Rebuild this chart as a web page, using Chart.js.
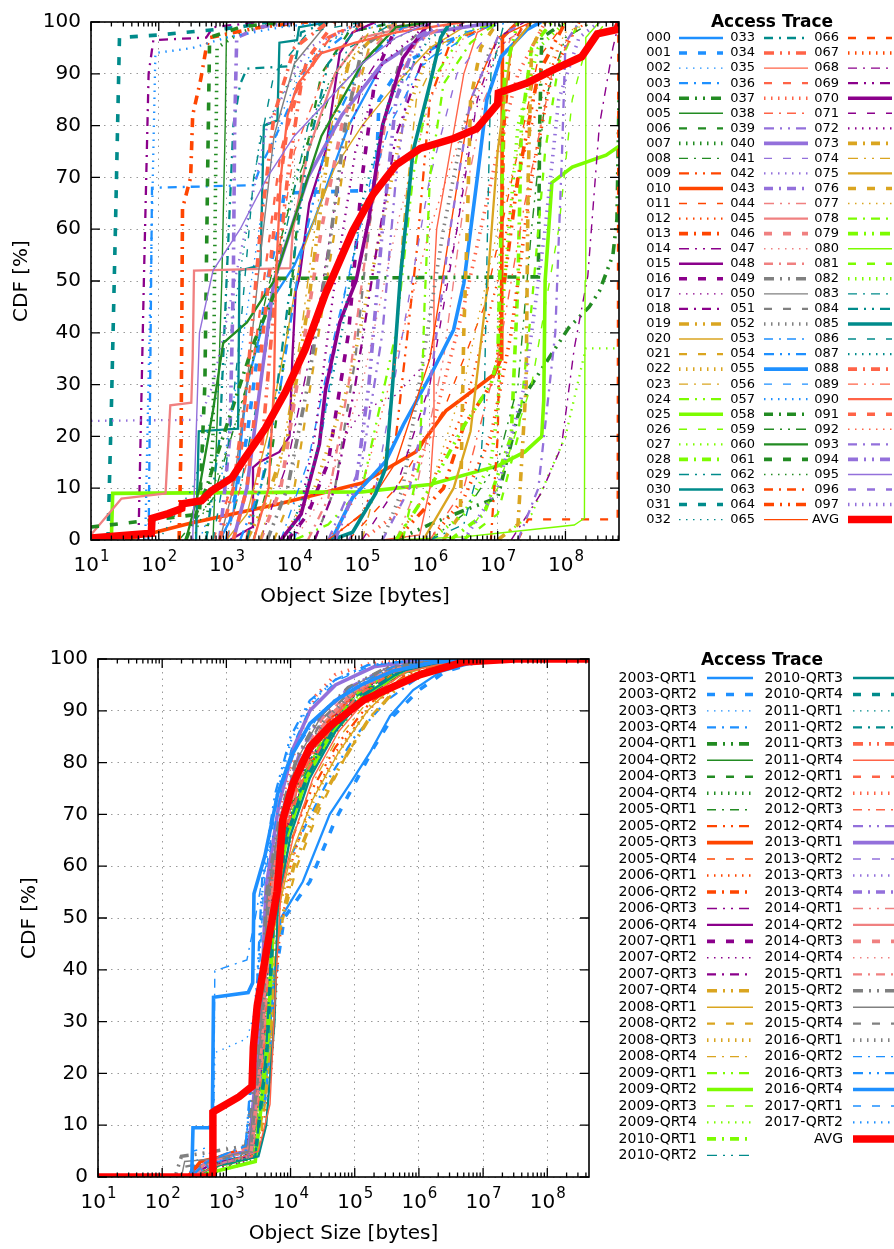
<!DOCTYPE html>
<html>
<head>
<meta charset="utf-8">
<title>Object size CDF per access trace</title>
<script src="https://cdn.jsdelivr.net/npm/chart.js@4.4.0/dist/chart.umd.min.js"></script>
<style>
  body { margin: 0; background: #fff; }
  canvas { display: block; }
</style>
</head>
<body>
<canvas id="cdfTraces" width="894" height="637"></canvas>
<canvas id="cdfQuarters" width="894" height="612"></canvas>
<script>
// x axis decades (10^n bytes), y axis CDF ticks
const decades = [1, 2, 3, 4, 5, 6, 7, 8]
const cdfTicks = [0, 10, 20, 30, 40, 50, 60, 70, 80, 90, 100]

// every curve is a list of [log10(object size in bytes), CDF in %]
const traceAvg = [[1.0,0.4],[1.89,1.3],[1.9,4.2],[2.14,5.1],[2.34,6.1],[2.35,7],[2.63,7.6],[2.78,9.5],[3.08,12],[3.27,15.8],[3.57,21.5],[3.87,28.6],[4.16,36.8],[4.46,47.6],[4.86,59.6],[5.16,66.7],[5.5,72.4],[5.86,75.6],[6.35,77.5],[6.69,79.4],[7.0,84.2],[7.01,86.3],[7.43,88.2],[7.84,90.9],[8.24,93.3],[8.47,97.7],[8.75,98.5],[8.79,99.6]]

const traceCurves = [
  [[2.9,0],[3.1,5],[3.3,30],[3.6,45],[4.0,53],[4.3,62],[4.8,80],[5.3,92],[6,98],[7,100]],
  [[3.0,0],[3.3,20],[3.6,50],[3.8,62],[3.85,67],[5.2,67.5],[5.25,85],[5.6,92],[6.2,96],[7,100]],
  [[2.6,0],[2.9,10],[3.2,35],[3.5,62],[3.8,82],[4.2,93],[4.8,99],[5.5,100]],
  [[1.85,0],[1.88,40],[1.9,68],[3.4,68.5],[3.5,72],[3.8,80],[4.2,92],[4.8,98],[5.5,100]],
  [[5.5,0],[6.0,3],[6.5,5.7],[7.0,8.2],[7.3,24],[7.45,29],[7.85,37],[8.05,41],[8.35,45],[8.5,48],[8.7,55],[8.76,62],[8.79,85]],
  [[2.8,0],[2.88,30],[2.93,50],[2.98,80],[3.0,100]],
  [[3.4,0],[3.6,10],[3.9,40],[4.1,70],[4.4,90],[4.8,98],[5.5,100]],
  [[2.7,0],[2.8,20],[2.83,60],[2.86,95],[3.2,98],[3.8,100]],
  [[2.3,0],[2.8,8],[3.3,30],[3.6,48],[4.0,68],[4.5,85],[5.2,95],[6,100]],
  [[4.5,0],[5.0,5],[5.5,20],[5.8,55],[6.0,85],[6.3,96],[7,100]],
  [[1.5,0],[2.45,3.2],[3.78,7],[5.0,11],[5.79,17],[6.24,25],[6.5,27.5],[6.95,32],[7.05,35],[7.06,50],[7.07,97],[7.3,100]],
  [[4.8,0],[5.5,10],[6.2,25],[6.8,45],[7.3,75],[7.6,93],[8,100]],
  [[5.5,0],[6.0,10],[6.5,25],[7.0,50],[7.2,65],[7.5,80],[7.9,95],[8.3,100]],
  [[2.3,0],[2.33,20],[2.35,64],[2.47,70],[2.5,82],[2.62,89],[2.7,95],[2.75,97],[3.5,99],[4.2,100]],
  [[3.5,0],[3.9,15],[4.3,40],[4.6,65],[5.0,88],[5.5,98],[6,100]],
  [[3.05,0],[3.38,2.5],[3.39,14],[3.48,15],[3.78,17],[3.93,20],[3.97,35],[4.02,48],[4.08,51],[4.22,65],[4.46,75],[4.67,94],[4.86,98],[5.2,100]],
  [[3.9,0],[4.2,5],[4.5,15],[4.8,40],[5.0,70],[5.2,90],[5.5,99],[6,100]],
  [[4.0,0],[4.5,15],[5.0,25],[5.5,28],[6.0,35],[6.4,60],[6.6,80],[7.0,95],[7.5,100]],
  [[1.7,0],[1.78,50],[1.85,90],[1.92,96.5],[2.7,97],[2.8,99],[3.5,100]],
  [[3.3,0],[3.6,8],[3.9,20],[4.2,45],[4.5,75],[4.8,92],[5.3,99],[6,100]],
  [[3.0,0],[3.3,5],[3.6,20],[3.9,40],[4.1,55],[4.3,62],[4.6,72],[5.0,80],[5.5,88],[6.0,95],[6.5,99],[7,100]],
  [[3.7,0],[4.0,10],[4.3,35],[4.6,60],[4.8,80],[5.1,95],[5.5,100]],
  [[3.8,0],[4.3,10],[4.8,30],[5.2,55],[5.6,80],[6.0,95],[6.5,100]],
  [[5.0,0],[5.4,20],[5.6,60],[5.8,85],[6.2,96],[7,100]],
  [[4.0,0],[4.5,3],[5.0,10],[5.5,40],[5.75,70],[6.0,88],[6.5,98],[7,100]],
  [[1.3,0],[1.32,9],[5.0,9.3],[6.0,10.7],[7.0,14.3],[7.4,17],[7.65,20],[7.68,27],[7.7,50],[7.8,69],[8.1,72],[8.6,74.3],[8.79,76]],
  [[6.5,0],[7.0,10],[7.5,30],[7.9,60],[8.1,85],[8.3,95],[8.6,100]],
  [[7.0,0],[7.5,5],[8.0,20],[8.3,37],[8.79,37]],
  [[6.3,0],[6.8,5],[7.2,20],[7.3,50],[7.35,80],[7.5,95],[7.8,100]],
  [[3.0,0],[3.2,10],[3.5,30],[3.8,55],[4.2,80],[4.8,95],[5.5,100]],
  [[2.55,0],[2.59,21],[3.17,21.5],[3.19,52],[3.5,53],[3.55,80],[3.75,81],[3.78,96],[4.04,96.5],[4.07,99],[4.5,100]],
  [[1.25,0],[1.3,25],[1.36,60],[1.42,97],[2.0,97.5],[3.2,99],[3.6,100]],
  [[2.0,0],[2.5,10],[3.0,35],[3.3,60],[3.5,78],[3.9,88],[4.5,96],[5,100]],
  [[2.7,0],[2.9,20],[3.0,50],[3.1,80],[3.2,88],[3.3,91],[4.0,91.5],[4.1,98],[4.5,100]],
  [[3.3,0],[3.5,15],[3.7,45],[3.9,70],[4.1,88],[4.5,97],[5,100]],
  [[5.3,0],[5.85,1],[6.0,10],[6.05,20],[6.06,50],[6.1,60],[6.3,75],[6.5,90],[6.7,98],[7,100]],
  [[2.8,0],[3.2,15],[3.5,45],[3.8,75],[4.1,90],[4.6,98],[5.2,100]],
  [[5.0,0],[5.5,5],[6.0,20],[6.5,45],[7.0,75],[7.3,90],[7.7,100]],
  [[3.0,0],[3.4,20],[3.7,50],[4.0,75],[4.5,92],[5,100]],
  [[4.5,0],[5.0,15],[5.3,40],[5.5,70],[5.7,90],[6,100]],
  [[3.1,0],[3.3,10],[3.5,30],[3.7,50],[4.2,70],[4.7,82],[5.3,92],[6,98],[7,100]],
  [[4.8,0],[5.2,10],[5.6,40],[6.0,70],[6.4,90],[7,100]],
  [[1.0,23],[2.6,23.2],[2.8,30],[3.2,55],[3.6,80],[4.2,95],[5,100]],
  [[2.9,0],[3.05,20],[3.1,50],[3.12,80],[3.15,97],[3.5,99],[4,100]],
  [[5.5,0],[5.8,10],[6.2,35],[6.5,65],[6.8,85],[7.2,97],[7.6,100]],
  [[1.0,1],[1.45,8],[2.1,9],[2.17,26],[2.48,26.5],[2.5,35],[2.52,52],[3.94,52.5],[3.98,60],[4.2,75],[4.6,90],[5.0,97],[6,100]],
  [[3.5,0],[3.8,10],[4.1,35],[4.4,60],[4.7,80],[5.0,92],[5.5,100]],
  [[4.0,0],[4.5,10],[5.0,30],[5.5,60],[6.0,85],[6.5,97],[7,100]],
  [[4.2,0],[4.5,8],[4.8,30],[5.1,60],[5.4,85],[5.8,96],[6.3,100]],
  [[3.6,0],[3.9,10],[4.2,30],[4.5,55],[4.75,80],[5.0,95],[5.5,100]],
  [[2.9,0],[3.1,10],[3.3,30],[3.5,55],[3.7,78],[4.0,92],[4.5,100]],
  [[4.3,0],[4.6,10],[4.9,35],[5.1,60],[5.3,80],[5.6,95],[6,100]],
  [[5.3,0],[5.6,10],[5.9,35],[6.2,60],[6.5,80],[6.9,95],[7.3,100]],
  [[3.8,0],[4.2,15],[4.6,40],[5.0,62],[5.4,80],[5.9,92],[6.5,98],[7.2,100]],
  [[3.2,0],[3.5,10],[3.8,30],[4.1,55],[4.5,78],[5.0,92],[5.6,99],[6,100]],
  [[4.55,0],[4.86,8.2],[5.35,15.2],[5.61,22.3],[6.01,31.8],[6.35,40.6],[6.5,49.5],[6.7,70],[6.84,85],[7.05,93.3],[7.43,98.5],[7.64,100]],
  [[4.0,0],[4.4,20],[4.7,45],[5.0,62],[5.3,80],[5.7,90],[6.4,96],[7,100]],
  [[1.8,0],[1.88,50],[1.95,94],[2.5,95],[3.0,97],[3.8,99],[4.5,100]],
  [[2.4,0],[2.7,10],[3.0,22],[3.4,38],[3.75,49],[3.78,50.5],[7.6,50.8],[7.62,80],[7.65,97],[8,100]],
  [[6.0,0],[6.5,5],[7.0,15],[7.3,30],[7.5,60],[7.7,85],[8.0,97],[8.4,100]],
  [[2.4,0],[2.6,10],[2.8,25],[2.95,38],[3.3,42],[3.7,50],[4.0,62],[4.4,78],[5,92],[5.5,99],[6,100]],
  [[1,2.5],[2.0,4],[2.6,5],[2.68,30],[2.72,70],[2.75,97],[3.2,99],[3.8,100]],
  [[2.5,0],[2.8,10],[3.2,25],[3.6,45],[4.0,70],[4.5,88],[5.0,97],[5.5,100]],
  [[6.9,0],[7.0,20],[7.05,50],[7.1,80],[7.2,95],[7.4,100]],
  [[5.5,0],[6.2,10],[6.5,22],[6.9,30],[7.0,35],[7.05,45],[7.3,70],[7.6,90],[8,100]],
  [[4.5,0],[5.0,5],[5.5,15],[6.0,35],[6.3,60],[6.6,85],[7.0,97],[7.5,100]],
  [[7.3,0],[7.45,4],[8.77,4],[8.78,100]],
  [[6.0,0],[6.5,8],[6.9,20],[7.2,40],[7.5,70],[7.8,90],[8.2,100]],
  [[7.2,0],[7.64,9],[7.94,18],[8.13,37],[8.33,51],[8.5,80],[8.7,95],[8.79,100]],
  [[4.3,0],[4.6,10],[4.9,30],[5.2,55],[5.5,78],[5.9,93],[6.5,100]],
  [[3.8,0],[4.1,5],[4.37,18.5],[4.46,29],[4.67,42],[4.91,50],[5.1,62],[5.3,80],[5.6,93],[6,100]],
  [[5.0,0],[5.5,10],[6.0,30],[6.4,60],[6.7,85],[7.0,97],[7.4,100]],
  [[4.0,0],[4.3,20],[4.6,50],[4.9,75],[5.3,92],[6,100]],
  [[7.0,0],[7.3,3],[7.42,30],[7.45,70],[7.5,95],[7.7,100]],
  [[3.5,0],[3.8,15],[4.1,40],[4.4,70],[4.7,90],[5.2,100]],
  [[5.9,0],[6.35,10],[6.6,21],[6.84,48],[7.0,75],[7.2,95],[7.5,100]],
  [[6.2,0],[6.45,5],[6.5,40],[6.55,60],[6.6,85],[6.75,95],[7,100]],
  [[5.5,0],[6.0,10],[6.5,30],[7.0,60],[7.5,85],[8,98],[8.4,100]],
  [[5.6,0],[5.85,15],[5.92,45],[6.0,70],[6.2,88],[6.6,96],[7,100]],
  [[5.5,0],[6.0,10],[6.5,22],[6.9,30],[7.0,35],[7.05,60],[7.1,90],[7.3,100]],
  [[5.5,0],[6.5,0.6],[7.0,1.3],[8.13,2.9],[8.28,4.2],[8.29,50],[8.3,97],[8.5,100]],
  [[6.5,0],[7.0,5],[7.3,20],[7.5,45],[7.7,75],[7.9,92],[8.2,100]],
  [[6.0,0],[6.5,5],[6.9,15],[7.0,25],[7.1,50],[7.3,80],[7.6,95],[8,100]],
  [[6.0,0],[6.5,3],[6.75,15],[6.8,25],[6.85,60],[6.9,90],[7.1,100]],
  [[3.3,0],[3.6,15],[3.9,45],[4.2,75],[4.5,92],[5,100]],
  [[4.55,0],[4.86,1.5],[5.2,9],[5.35,14],[5.45,30],[5.56,50],[5.75,75],[6.0,88],[6.16,97],[6.3,100]],
  [[2.8,0],[3.0,15],[3.2,40],[3.4,70],[3.7,90],[4.2,98],[5,100]],
  [[3.9,0],[4.3,15],[4.7,40],[5.0,65],[5.4,85],[6,97],[6.5,100]],
  [[2.9,0],[3.1,10],[3.3,30],[3.5,60],[3.7,82],[4.0,95],[4.5,100]],
  [[6.0,0],[6.5,10],[7.0,35],[7.4,65],[7.8,90],[8.2,100]],
  [[3.4,0],[3.62,10],[3.7,30],[3.73,51],[3.8,70],[3.9,82],[4.05,88],[4.4,94],[4.9,96],[5.5,98],[6.5,100]],
  [[3.1,0],[3.3,10],[3.5,35],[3.7,60],[3.9,80],[4.2,93],[4.6,100]],
  [[4.5,0],[5.0,10],[5.5,35],[6.0,60],[6.5,80],[7.0,95],[7.5,100]],
  [[7.3,0],[7.6,10],[7.85,40],[7.95,75],[8.0,96],[8.2,100]],
  [[4.6,0],[4.9,10],[5.1,30],[5.3,60],[5.5,85],[5.8,97],[6.2,100]],
  [[2.5,0],[2.55,20],[2.6,40],[2.8,52],[3.2,60],[3.6,70],[4.0,78],[4.5,85],[5.0,92],[5.5,97],[6,100]],
  [[5.3,0],[5.7,10],[6.0,30],[6.3,60],[6.6,85],[7.0,97],[7.4,100]],
  [[6.5,0],[7.0,10],[7.4,30],[7.7,60],[7.9,85],[8.2,97],[8.5,100]]
]

const quarterAvg = [[1,0],[2.78,0],[2.79,12.5],[2.85,13],[3.2,15.5],[3.4,17.5],[3.42,25],[3.48,33],[3.63,44],[3.79,55],[3.88,69],[4.04,76],[4.3,83],[4.61,87],[5.13,92],[6.02,97],[6.69,99.4],[7.5,100],[8.65,100]]

const quarterCurves = [
  [[1,0],[2.4,0],[2.5,2],[3.3,4],[3.6,15],[3.75,40],[3.85,50],[4.19,57],[4.61,70],[4.93,76],[5.24,82],[5.55,89],[5.91,94],[6.33,97.5],[7,99.8],[7.5,100]],
  [[1,0],[2.4,0],[2.5,2],[3.3,4],[3.6,15],[3.78,40],[3.9,50],[4.3,57],[4.7,69],[5.0,76],[5.3,83],[5.6,89],[6.0,94],[6.4,97.5],[7,99.8],[7.5,100]],
  [[1,0],[2.46,0],[2.5,3],[2.8,5],[2.82,24],[3.32,26.7],[3.42,31],[3.55,48],[3.7,62],[3.95,74],[4.3,83],[4.8,90],[5.3,94.5],[6,98.5],[7,100]],
  [[1,0],[2.4,0],[2.6,3],[3.3,5],[3.55,20],[3.7,45],[3.85,58],[4.2,67],[4.6,77],[5.0,85],[5.5,92],[6,96.5],[6.6,99.3],[7.5,100]],
  [[1,0],[2.4,0],[2.6,2],[3.3,3],[3.5,15],[3.62,45],[3.75,60],[4.0,72],[4.4,82],[4.9,90],[5.5,96],[6.2,99.3],[7,100]],
  [[1,0],[2.5,0],[2.8,2],[3.4,4],[3.55,25],[3.68,52],[3.9,66],[4.2,76],[4.6,85],[5.1,92],[5.7,97],[6.4,99.5],[7.2,100]],
  [[1,0],[2.4,0],[2.7,3],[3.35,5],[3.5,22],[3.62,50],[3.82,65],[4.1,76],[4.5,86],[5.0,93],[5.6,97.5],[6.3,99.6],[7,100]],
  [[1,0],[2.5,0],[2.8,1],[3.4,3],[3.58,28],[3.7,55],[3.95,68],[4.3,78],[4.7,86],[5.2,93],[5.8,97.8],[6.5,99.7],[7.2,100]],
  [[1,0],[2.4,0],[2.6,2],[3.3,4],[3.52,20],[3.65,50],[3.85,66],[4.15,77],[4.55,86],[5.05,93],[5.6,97.5],[6.3,99.5],[7,100]],
  [[1,0],[2.5,0],[2.7,2],[3.4,4],[3.6,25],[3.72,50],[3.95,63],[4.3,74],[4.7,83],[5.2,91],[5.8,97],[6.5,99.5],[7.2,100]],
  [[1,0],[2.4,0],[2.6,3],[3.35,5],[3.52,25],[3.63,52],[3.85,67],[4.15,78],[4.5,87],[5.0,93.5],[5.6,97.8],[6.3,99.6],[7,100]],
  [[1,0],[2.5,0],[2.8,2],[3.4,4],[3.56,22],[3.68,50],[3.9,66],[4.2,77],[4.6,86],[5.1,93],[5.7,97.5],[6.4,99.5],[7.2,100]],
  [[1,0],[2.5,0],[2.9,2],[3.5,4],[3.7,20],[3.82,45],[4.0,60],[4.3,72],[4.7,82],[5.2,90],[5.8,96.5],[6.5,99.4],[7.3,100]],
  [[1,0],[2.45,0],[2.7,3],[3.4,6],[3.6,30],[3.72,55],[3.95,68],[4.25,78],[4.65,87],[5.1,93],[5.7,97.6],[6.4,99.5],[7.2,100]],
  [[1,0],[2.4,0],[2.6,2],[3.3,4],[3.52,25],[3.64,52],[3.86,67],[4.15,78],[4.55,87],[5.0,93],[5.6,97.5],[6.3,99.5],[7,100]],
  [[1,0],[2.45,0],[2.7,2],[3.35,4],[3.55,22],[3.66,50],[3.9,65],[4.2,76],[4.6,85],[5.1,92],[5.7,97.3],[6.4,99.5],[7.1,100]],
  [[1,0],[2.5,0],[2.7,2],[3.4,4],[3.57,24],[3.68,52],[3.92,66],[4.2,77],[4.6,86],[5.05,93],[5.6,97.5],[6.3,99.5],[7,100]],
  [[1,0],[2.4,0],[2.6,1],[3.3,3],[3.5,20],[3.63,48],[3.85,64],[4.1,76],[4.5,86],[5.0,93],[5.6,97.5],[6.3,99.6],[7,100]],
  [[1,0],[2.45,0],[2.7,2],[3.35,4],[3.55,23],[3.67,51],[3.9,65],[4.2,76],[4.6,85.5],[5.1,92.5],[5.7,97.4],[6.4,99.5],[7.1,100]],
  [[1,0],[2.5,0],[2.8,2],[3.45,4],[3.65,20],[3.78,45],[4.05,60],[4.4,71],[4.8,80],[5.2,88],[5.7,95],[6.4,99.2],[7.2,100]],
  [[1,0],[2.5,0],[2.8,2],[3.45,4],[3.62,22],[3.75,48],[4.0,62],[4.35,73],[4.75,82],[5.2,90],[5.7,96],[6.4,99.3],[7.2,100]],
  [[1,0],[2.5,0],[2.85,2],[3.5,4],[3.68,22],[3.8,46],[4.1,60],[4.45,71],[4.85,81],[5.25,89],[5.8,96],[6.5,99.4],[7.3,100]],
  [[1,0],[2.5,0],[2.8,2],[3.45,5],[3.66,24],[3.78,50],[4.05,63],[4.4,74],[4.8,83],[5.25,91],[5.8,96.5],[6.5,99.4],[7.3,100]],
  [[1,0],[2.45,0],[2.75,2],[3.4,4],[3.6,22],[3.72,50],[3.98,64],[4.3,75],[4.7,84],[5.15,91],[5.7,96.8],[6.4,99.4],[7.2,100]],
  [[1,0],[2.5,0],[2.75,2],[3.4,4],[3.6,25],[3.7,52],[3.92,66],[4.2,77],[4.6,86],[5.05,93],[5.6,97.6],[6.3,99.5],[7,100]],
  [[1,0],[2.5,0],[2.8,1],[3.45,3],[3.64,25],[3.74,52],[3.95,66],[4.25,77],[4.65,86],[5.1,92.5],[5.7,97.4],[6.4,99.5],[7.1,100]],
  [[1,0],[2.5,0],[2.8,2],[3.45,4],[3.62,24],[3.73,50],[3.95,65],[4.25,76],[4.65,85],[5.1,92],[5.7,97],[6.4,99.5],[7.2,100]],
  [[1,0],[2.45,0],[2.75,2],[3.4,4],[3.6,24],[3.71,51],[3.93,66],[4.22,77],[4.6,86],[5.05,92.8],[5.65,97.4],[6.3,99.5],[7.1,100]],
  [[1,0],[2.5,0],[2.8,2],[3.45,4],[3.63,26],[3.73,53],[3.95,67],[4.25,78],[4.6,87],[5.05,93.5],[5.6,97.8],[6.3,99.6],[7,100]],
  [[1,0],[2.45,0],[2.7,2],[3.4,4],[3.58,24],[3.69,51],[3.9,66],[4.2,77],[4.6,86],[5.05,93],[5.6,97.5],[6.3,99.5],[7,100]],
  [[1,0],[2.5,0],[2.8,2],[3.5,4],[3.62,10],[3.75,30],[3.8,52],[4.0,66],[4.3,77],[4.7,86],[5.15,93],[5.7,97.5],[6.4,99.5],[7.2,100]],
  [[1,0],[2.5,0],[2.8,2],[3.45,4],[3.63,24],[3.74,51],[3.95,66],[4.25,77],[4.65,86],[5.1,93],[5.7,97.5],[6.4,99.5],[7.1,100]],
  [[1,0],[2.45,0],[2.75,2],[3.4,5],[3.58,25],[3.68,52],[3.9,67],[4.2,78],[4.6,87],[5.05,93.5],[5.6,97.7],[6.3,99.6],[7,100]],
  [[1,0],[2.5,0],[2.8,2],[3.45,4],[3.62,24],[3.72,51],[3.93,66],[4.22,77],[4.62,86],[5.08,93],[5.65,97.5],[6.35,99.5],[7.1,100]],
  [[1,0],[2.45,0],[2.7,3],[3.35,6],[3.56,27],[3.67,53],[3.88,67],[4.18,78],[4.55,87],[5.0,93.5],[5.6,97.8],[6.3,99.6],[7,100]],
  [[1,0],[2.5,0],[2.8,2],[3.5,5],[3.68,14],[3.78,40],[3.85,55],[4.05,66],[4.35,77],[4.75,86],[5.2,92.5],[5.8,97.5],[6.5,99.5],[7.2,100]],
  [[1,0],[2.45,0],[2.7,2],[3.4,4],[3.58,24],[3.69,51],[3.9,66],[4.2,77],[4.6,86],[5.05,93],[5.6,97.5],[6.3,99.5],[7,100]],
  [[1,0],[2.45,0],[2.7,2],[3.35,4],[3.55,28],[3.65,56],[3.85,72],[4.1,84],[4.4,93],[4.7,97],[5.2,99],[6,100]],
  [[1,0],[2.45,0],[2.7,3],[3.4,5],[3.57,26],[3.68,52],[3.9,67],[4.2,78],[4.58,87],[5.02,93.5],[5.6,97.7],[6.3,99.6],[7,100]],
  [[1,0],[2.45,0],[2.7,2],[3.35,4],[3.53,27],[3.64,55],[3.85,70],[4.1,81],[4.45,89],[4.9,94.5],[5.5,98.3],[6.2,99.7],[7,100]],
  [[1,0],[2.45,0],[2.7,3],[3.35,5],[3.52,28],[3.62,56],[3.82,72],[4.05,83],[4.3,90],[4.7,95],[5.3,98.5],[6,99.8],[7,100]],
  [[1,0],[2.45,0],[2.7,2],[3.35,4],[3.54,26],[3.65,54],[3.86,69],[4.12,80],[4.5,88],[4.95,94],[5.5,98],[6.2,99.7],[7,100]],
  [[1,0],[2.45,0],[2.7,2],[3.4,4],[3.56,25],[3.67,53],[3.88,68],[4.15,79],[4.52,87.5],[5.0,93.5],[5.55,97.8],[6.25,99.6],[7,100]],
  [[1,0],[2.45,0],[2.7,3],[3.35,5],[3.54,27],[3.65,55],[3.86,70],[4.12,81],[4.48,89],[4.92,94.5],[5.5,98.2],[6.2,99.7],[7,100]],
  [[1,0],[2.45,0],[2.7,2],[3.35,4],[3.55,26],[3.66,54],[3.87,69],[4.15,80],[4.52,88],[4.98,94],[5.55,98],[6.25,99.6],[7,100]],
  [[1,0],[2.45,0],[2.7,3],[3.4,5],[3.56,26],[3.67,53],[3.88,68],[4.16,79],[4.54,88],[5.0,93.8],[5.58,97.9],[6.28,99.6],[7,100]],
  [[1,0],[2.5,0],[2.75,3],[3.4,6],[3.58,27],[3.69,53],[3.9,68],[4.18,79],[4.55,88],[5.0,94],[5.6,98],[6.3,99.6],[7,100]],
  [[1,0],[2.45,0],[2.7,2],[3.4,4],[3.57,25],[3.68,52],[3.89,67],[4.17,78],[4.56,87],[5.02,93.5],[5.6,97.7],[6.3,99.6],[7,100]],
  [[1,0],[2.45,0],[2.7,3],[3.38,5],[3.55,26],[3.66,54],[3.87,69],[4.14,80],[4.5,88.5],[4.96,94],[5.55,98],[6.25,99.6],[7,100]],
  [[1,0],[2.2,0],[2.3,4],[2.6,4.5],[3.3,6],[3.52,27],[3.63,55],[3.84,70],[4.1,81],[4.45,89],[4.9,94.5],[5.5,98.3],[6.2,99.7],[7,100]],
  [[1,0],[2.3,0],[2.35,3],[2.8,3.5],[3.35,5],[3.53,27],[3.64,55],[3.85,70],[4.12,81],[4.48,89],[4.93,94.5],[5.5,98.3],[6.2,99.7],[7,100]],
  [[1,0],[2.3,0],[2.35,2],[2.8,3],[3.38,5],[3.55,26],[3.66,54],[3.87,69],[4.14,80],[4.5,88.5],[4.96,94],[5.52,98],[6.2,99.7],[7,100]],
  [[1,0],[2.4,0],[2.6,2],[3.38,4],[3.55,26],[3.66,54],[3.88,69],[4.15,80],[4.52,88],[5.0,94],[5.55,98],[6.25,99.6],[7,100]],
  [[1,0],[2.46,0],[2.48,5],[2.8,6],[2.82,39.8],[3.32,41.9],[3.45,50],[3.55,57],[3.68,63],[3.88,76],[4.1,83],[4.5,90],[5,95],[5.6,98.5],[6.3,99.7],[7,100]],
  [[1,0],[2.45,0],[2.7,3],[3.3,6],[3.45,30],[3.56,58],[3.76,74],[4.0,85],[4.3,92],[4.7,96],[5.2,98.8],[6,99.8],[7,100]],
  [[1,0],[2.46,0],[2.48,9.5],[2.78,9.5],[2.8,34.7],[3.34,35.6],[3.41,37.5],[3.43,54.7],[3.6,62],[3.8,74],[4.0,81],[4.3,87.5],[4.7,92],[5.1,95],[5.6,97.7],[6.2,99.3],[7,100]],
  [[1,0],[2.45,0],[2.7,3],[3.3,6],[3.47,28],[3.58,56],[3.78,72],[4.02,83],[4.32,91],[4.72,95.8],[5.25,98.7],[6,99.8],[7,100]],
  [[1,0],[2.45,0],[2.7,2],[3.3,5],[3.46,29],[3.57,57],[3.77,73],[4.0,84],[4.3,91.5],[4.7,96],[5.2,98.8],[6,99.8],[7,100]]
]

const traceNames = traceCurves.map((c, i) => String(i).padStart(3, '0'))
const quarterNames = []
for (let yr = 2003; yr <= 2017; yr++) {
    for (let q = 1; q <= 4; q++) quarterNames.push(yr + '-QRT' + q)
}

// gnuplot-like line types: colour, dash and width cycle with the index
const palette = ['#1e90ff', '#228b22', '#ff4500', '#8b008b', '#daa520', '#7cfc00', '#008b8b', '#ff6347', '#9370db', '#f08080', '#808080']
const dashes = [[], [8, 11], [1.5, 5.5], [9, 6, 2, 6], [10, 6, 2, 6, 2, 6]]
const widths = [2.3, 3.6, 1.4]

function lineStyle (i) {
    const c = i < 53 ? Math.floor((i + 1) / 5) : Math.floor((i - 53) / 5)
    return { borderColor: palette[c % palette.length], borderDash: dashes[i % 5], borderWidth: widths[i % 3] }
}

function toPoints (curve) {
    return curve.map(p => ({ x: 10 ** p[0], y: p[1] }))
}

function makeDatasets (names, curves, avg) {
    const sets = curves.map((c, i) => Object.assign({
        label: names[i],
        data: toPoints(c),
        order: -i
    }, lineStyle(i)))
    sets.push({ label: 'AVG', data: toPoints(avg), borderColor: '#ff0000', borderWidth: 7.5, borderDash: [], order: -1000 })
    return sets
}

const FONT = '"DejaVu Sans", sans-serif'
Chart.defaults.font.family = FONT

// frame, inward ticks, x labels, axis titles and the key, drawn over the plot
const gnuplotFrame = {
    id: 'gnuplotFrame',
    afterDraw (chart, args, o) {
        const { ctx, chartArea: a, scales: { x, y } } = chart
        ctx.save()
        ctx.strokeStyle = '#000'
        ctx.lineWidth = 1.3
        ctx.setLineDash([])
        ctx.beginPath()
        for (let n = 1; n <= 8; n++) {
            for (let k = 1; k <= 9; k++) {
                const v = k * 10 ** n
                if (v > x.max) break
                const px = x.getPixelForValue(v)
                const len = k == 1 ? 9 : 4.5
                ctx.moveTo(px, a.bottom); ctx.lineTo(px, a.bottom - len)
                ctx.moveTo(px, a.top); ctx.lineTo(px, a.top + len)
            }
        }
        cdfTicks.forEach(v => {
            const py = y.getPixelForValue(v)
            ctx.moveTo(a.left, py); ctx.lineTo(a.left + 9, py)
            ctx.moveTo(a.right, py); ctx.lineTo(a.right - 9, py)
        })
        ctx.stroke()
        ctx.lineWidth = 1.6
        ctx.strokeRect(a.left, a.top, a.right - a.left, a.bottom - a.top)

        // x tick labels 10^n
        ctx.fillStyle = '#000'
        ctx.textBaseline = 'middle'
        ctx.textAlign = 'left'
        decades.forEach(n => {
            const px = x.getPixelForValue(10 ** n)
            ctx.font = '20px ' + FONT
            const w1 = ctx.measureText('10').width
            ctx.font = '15px ' + FONT
            const w2 = ctx.measureText(String(n)).width
            const x0 = px - (w1 + w2) / 2
            ctx.font = '20px ' + FONT
            ctx.fillText('10', x0, a.bottom + 26)
            ctx.font = '15px ' + FONT
            ctx.fillText(String(n), x0 + w1 + 1, a.bottom + 17)
        })

        // axis titles
        ctx.font = '20px ' + FONT
        ctx.textAlign = 'center'
        ctx.fillText('Object Size [bytes]', (a.left + a.right) / 2, a.bottom + 57)
        ctx.save()
        ctx.translate(o.ylabelX, (a.top + a.bottom) / 2)
        ctx.rotate(-Math.PI / 2)
        ctx.fillText('CDF [%]', 0, 0)
        ctx.restore()

        // key
        const L = o.legend
        ctx.font = 'bold 17px ' + FONT
        ctx.fillText('Access Trace', L.titleX, L.titleY)
        ctx.font = L.fontSize + 'px ' + FONT
        chart.data.datasets.forEach((ds, i) => {
            const col = Math.floor(i / L.rows)
            const yy = L.rowY + (i % L.rows) * L.rowDy
            ctx.textAlign = 'right'
            ctx.fillText(ds.label, L.textRight[col], yy)
            ctx.beginPath()
            ctx.setLineDash(ds.borderDash)
            ctx.lineWidth = ds.borderWidth
            ctx.strokeStyle = ds.borderColor
            ctx.moveTo(L.sampleX[col], yy)
            ctx.lineTo(L.sampleX[col] + L.sampleLen, yy)
            ctx.stroke()
        })
        ctx.restore()
    }
}

function makeChart (id, names, curves, avg, box) {
    const canvas = document.getElementById(id)
    return new Chart(canvas, {
        type: 'line',
        data: { datasets: makeDatasets(names, curves, avg) },
        options: {
            responsive: false,
            animation: false,
            events: [],
            layout: { padding: { top: box.top, right: canvas.width - box.right, left: 0, bottom: 0 } },
            elements: { point: { radius: 0 }, line: { tension: 0, fill: false } },
            plugins: {
                legend: { display: false },
                tooltip: { enabled: false },
                gnuplotFrame: box
            },
            scales: {
                x: {
                    type: 'logarithmic',
                    min: 10,
                    max: 10 ** box.maxExp,
                    afterBuildTicks: s => { s.ticks = decades.map(n => ({ value: 10 ** n })) },
                    ticks: { display: false },
                    grid: { color: '#9a9a9a', lineWidth: 1, drawTicks: false },
                    border: { display: false, dash: [1.5, 5] },
                    afterFit: s => { s.height = canvas.height - box.top - box.plotHeight }
                },
                y: {
                    type: 'linear',
                    min: 0,
                    max: 100,
                    ticks: { stepSize: 10, color: '#000', font: { size: 20 }, padding: 10 },
                    grid: { color: '#9a9a9a', lineWidth: 1, drawTicks: false },
                    border: { display: false, dash: [1.5, 5] },
                    afterFit: s => { s.width = box.left }
                }
            }
        },
        plugins: [gnuplotFrame]
    })
}

makeChart('cdfTraces', traceNames, traceCurves, traceAvg, {
    left: 91, right: 619, top: 15, plotHeight: 525, maxExp: 8.79, ylabelX: 22,
    legend: { titleX: 772, titleY: 23, rows: 33, rowY: 38, rowDy: 15.05, fontSize: 13,
              textRight: [671, 755, 839], sampleX: [679, 764, 848], sampleLen: 44 }
})

makeChart('cdfQuarters', quarterNames.slice(0, quarterCurves.length), quarterCurves, quarterAvg, {
    left: 98, right: 589, top: 15, plotHeight: 525, maxExp: 8.65, ylabelX: 30,
    legend: { titleX: 762, titleY: 24, rows: 30, rowY: 41, rowDy: 16.46, fontSize: 14,
              textRight: [697, 843], sampleX: [707, 853], sampleLen: 46 }
})
</script>
</body>
</html>
